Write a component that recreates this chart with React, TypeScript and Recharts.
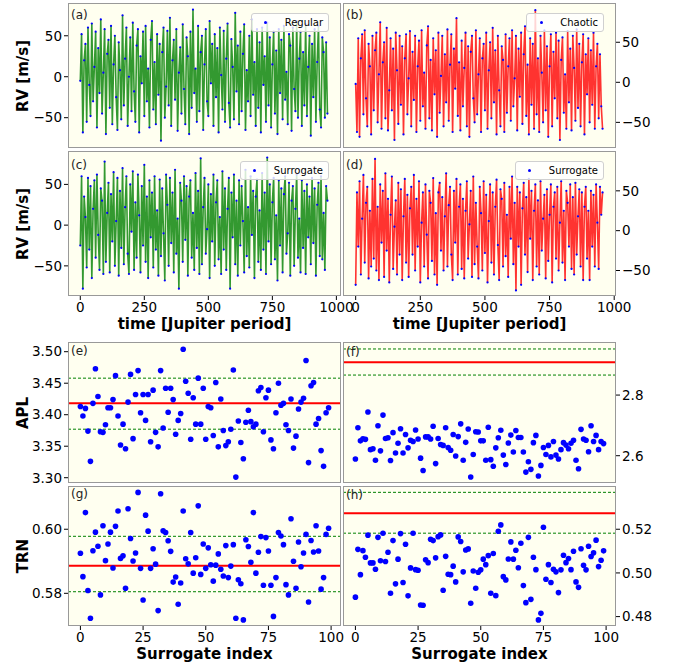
import { LineChart, Line, XAxis, YAxis, ScatterChart, Scatter, ReferenceLine } from "recharts";

const FONT = "'DejaVu Sans', sans-serif";
const STEP = 5; // sampling step in Jupiter periods
const GREEN = "#008000";
const RED = "#ff0000";
const BLUE = "#0000ff";
const BG = "#fffff0";

// RV series [m/s]
const regular = [
  -5, 52, -68, 20, 40, -55, 60, -10, -48, 65, -30, 12, 55, -62, 35, -20, 70, -45, 5, 58,
  -70, 28, 45, -38, 62, -58, 15, 50, -25, -65, 42, 8, -52, 75, -35, 22, 60, -60, 0, 48,
  -42, 66, -18, -55, 38, 58, -68, 25, -8, 55, -48, 62, -30, 10, -62, 45, 68, -40, 18, -58,
  52, -22, 40, -78, 30, 60, -50, -12, 56, -35, 72, -60, 20, 45, -28, 58, -66, 5, 36, -45,
  64, -15, -58, 48, 25, -70, 55, -38, 82, -20, 10, -55, 62, -42, 30, 50, -65, 15, 58, -30,
  -48, 68, -8, 40, -60, 52, -25, 35, -68, 60, 2, -40, 56, -55, 22, 65, -32, -62, 46, 12,
  -52, 78, -18, 38, -58, 55, -42, 28, 64, -65, 8, -30, 50, -48, 70, -22, 18, -60, 58, -38,
  42, -68, 60, -10, 25, -55, 66, -35, 48, -62, 15, 55, -45, 32, -70, 58, -20, 45, -52, 62,
  -28, 6, -58, 52, 38, -66, 60, -15, -42, 68, -50, 22, 55, -60, 30, -35, 64, -48, 12, 50,
  -72, 40, -25, 58, -55, 18, 62, -40, -62, 48, 30, -50, 42, -45,
];
const chaotic = [
  -2, -62, 55, -68, 30, 60, -40, 65, -20, -55, 48, 20, -65, 58, -35, 40, 62, -50, 10, 75,
  -58, 25, 50, -45, 68, -60, -10, 55, -35, 42, -72, 62, 15, -52, 58, -28, 45, -65, 30, 60,
  -40, 5, 64, -55, 38, -22, 58, -62, 20, 52, -48, 65, -30, 12, -58, 46, 70, -45, 28, -60,
  55, -15, 40, -68, 62, -38, 8, 58, -55, 35, -25, 66, -48, 22, 60, -62, 42, -8, 80, -42,
  25, -60, 52, -30, 18, 62, -55, 45, -68, 38, 58, -20, -50, 65, -40, 10, 55, -62, 30, 48,
  -35, 62, -58, 15, 50, -45, 68, -25, 40, -65, 58, -10, -55, 45, 28, -62, 60, -38, 20, 55,
  -48, 65, -30, 5, 58, -60, 42, -18, 62, -52, 35, 70, -42, 22, -65, 55, -28, 48, -58, 90,
  -40, 30, -62, 58, 12, -50, 65, -35, 45, -68, 20, 60, -55, 38, -20, 62, -45, 52, -72, 28,
  56, -38, 10, -58, 64, -25, 42, -60, 58, 18, -48, 66, -32, 48, -55, 25, 60, -65, 35, -15,
  55, -50, 40, -28, 62, -58, 20, 48, -45, 35, -30, -58,
];
const surrogateRegular = [
  -25, 60, -78, 35, 10, -52, 58, -30, 48, -65, 20, 55, -40, 62, -12, -55, 45, 30, -60, 78,
  -45, 15, 52, -58, 38, -20, 65, -50, 5, 58, -62, 42, -28, 70, -48, 22, 60, -35, -60, 50,
  -8, 66, -55, 28, -40, 62, 12, -58, 48, -25, 74, -45, 35, -65, 55, -15, 40, -52, 60, -30,
  18, -62, 56, -38, 45, -10, -68, 62, 25, -50, 58, -22, 40, -58, 68, -35, 8, -78, 52, 30,
  -45, 60, -18, 48, -62, 35, 55, -40, 15, -55, 64, -28, 42, -60, 82, -48, 22, 58, -35, -5,
  50, -65, 38, -20, 62, -50, 28, 55, -42, 10, -60, 66, -30, 45, -55, 20, 58, -78, 40, -15,
  62, -48, 30, -62, 55, -25, 48, 5, -58, 68, -38, 22, -52, 60, -12, 42, -65, 35, 56, -45,
  18, -55, 64, -30, 40, -60, 83, -20, 50, -48, 28, 58, -42, 12, -68, 55, -25, 45, -58, 38,
  60, -35, -10, 52, -62, 30, 48, -50, 20, 62, -40, 8, -58, 55, -28, 42, -60, 50, -15, 35,
  -48, 58, -22, 45, -62, 25, 52, -38, 60, -42, 15, -55, 48, 30,
];
const surrogateChaotic = [
  -68, 48, -20, 62, -55, 15, 70, -40, 35, 55, -60, 25, -45, 65, -35, 90, -50, 30, -62, 58,
  -15, 50, -58, 72, -25, 40, -65, 20, 68, -48, 5, 38, -55, 60, -30, 52, -62, 18, 65, -40,
  45, -58, 28, 55, -30, 70, -50, 40, -20, 62, -65, 10, 48, -45, 58, -5, -60, 50, 35, -38,
  66, -55, 22, -68, 48, 60, -25, 42, -50, 18, 72, -45, 32, 55, -30, -62, 50, -15, 65, -55,
  30, 58, -48, 40, -60, 25, 62, -35, 8, 50, -58, 68, -42, 35, -20, -60, 55, 22, -50, 62,
  -28, 45, -65, 12, 58, -40, 48, -55, 30, 64, -18, -62, 52, 40, -45, 60, -32, 20, -58, 55,
  -10, 68, -42, 35, -75, 55, -20, 48, -68, 28, 60, -30, 42, -52, 65, -10, 50, -62, 25, 58,
  -45, 38, -55, 62, -25, 15, 45, -60, 52, -38, 20, 58, -65, 30, 48, -35, 55, -50, 10, 62,
  -40, 25, -62, 50, 35, -20, 58, -48, 42, -55, 60, -30, 18, 52, -45, 48, -62, 30, 55, -35,
  25, -62, 50, -20, 45, -45, 58, 10, -48, 55, 20, 48,
];

// surrogate measures, index 0..99
const aplRegular = [
  3.413, 3.398, 3.41, 3.374, 3.326, 3.418, 3.473, 3.429, 3.373, 3.372, 3.384, 3.411, 3.411, 3.424, 3.462, 3.398, 3.352, 3.385, 3.346, 3.42,
  3.464, 3.362, 3.432, 3.47, 3.403, 3.432, 3.391, 3.432, 3.357, 3.439, 3.372, 3.349, 3.47, 3.379, 3.442, 3.404, 3.442, 3.424, 3.369, 3.391,
  3.402, 3.504, 3.453, 3.434, 3.361, 3.427, 3.385, 3.458, 3.385, 3.442, 3.361, 3.413, 3.411, 3.367, 3.451, 3.349, 3.425, 3.375, 3.351, 3.357,
  3.377, 3.471, 3.301, 3.39, 3.356, 3.33, 3.388, 3.407, 3.389, 3.381, 3.385, 3.438, 3.443, 3.373, 3.427, 3.439, 3.36, 3.346, 3.403, 3.45,
  3.415, 3.418, 3.384, 3.375, 3.425, 3.347, 3.366, 3.409, 3.42, 3.426, 3.486, 3.324, 3.446, 3.451, 3.385, 3.394, 3.343, 3.318, 3.403, 3.411,
];
const aplChaotic = [
  2.589, 2.692, 2.649, 2.656, 2.654, 2.744, 2.62, 2.623, 2.585, 2.699, 2.616, 2.734, 2.657, 2.659, 2.584, 2.676, 2.609, 2.641, 2.689, 2.609,
  2.67, 2.626, 2.651, 2.647, 2.685, 2.655, 2.592, 2.551, 2.662, 2.662, 2.655, 2.697, 2.574, 2.657, 2.637, 2.634, 2.692, 2.627, 2.618, 2.67,
  2.599, 2.663, 2.705, 2.585, 2.644, 2.688, 2.53, 2.604, 2.679, 2.678, 2.649, 2.649, 2.585, 2.694, 2.587, 2.565, 2.626, 2.659, 2.684, 2.602,
  2.571, 2.642, 2.668, 2.612, 2.683, 2.66, 2.66, 2.612, 2.546, 2.58, 2.555, 2.643, 2.667, 2.533, 2.568, 2.627, 2.604, 2.634, 2.596, 2.647,
  2.602, 2.589, 2.62, 2.643, 2.635, 2.623, 2.641, 2.651, 2.585, 2.557, 2.687, 2.655, 2.651, 2.613, 2.699, 2.647, 2.667, 2.62, 2.647, 2.64,
];
const trnRegular = [
  0.5925, 0.5852, 0.6052, 0.5809, 0.5722, 0.5933, 0.5991, 0.5947, 0.5795, 0.6011, 0.5902, 0.5954, 0.5991, 0.5879, 0.6009, 0.6057, 0.5909, 0.5917, 0.5816, 0.6064,
  0.5971, 0.5901, 0.5926, 0.6115, 0.5878, 0.5779, 0.6044, 0.5994, 0.5878, 0.5939, 0.5891, 0.5746, 0.6111, 0.5995, 0.599, 0.5964, 0.5931, 0.5835, 0.5851, 0.5766,
  0.5832, 0.6057, 0.5908, 0.5892, 0.599, 0.5863, 0.5911, 0.6073, 0.5859, 0.5954, 0.5878, 0.5942, 0.5889, 0.5838, 0.5888, 0.5923, 0.5875, 0.5854, 0.5949, 0.5849,
  0.5885, 0.5952, 0.5722, 0.5842, 0.583, 0.5717, 0.5967, 0.5946, 0.5897, 0.6052, 0.5863, 0.5928, 0.5977, 0.5825, 0.5974, 0.5932, 0.5825, 0.5728, 0.5849, 0.599,
  0.5979, 0.5952, 0.5827, 0.5795, 0.6033, 0.59, 0.5816, 0.596, 0.5883, 0.5926, 0.5984, 0.5773, 0.5965, 0.5929, 0.6011, 0.5932, 0.5813, 0.5849, 0.5984, 0.6003,
];
const trnChaotic = [
  0.4889, 0.5108, 0.4992, 0.5102, 0.5072, 0.5173, 0.5046, 0.5046, 0.5017, 0.5163, 0.5056, 0.5182, 0.5052, 0.5095, 0.4907, 0.5148, 0.495, 0.5063, 0.518, 0.4956,
  0.5131, 0.4895, 0.5023, 0.5182, 0.5015, 0.5012, 0.4853, 0.4852, 0.506, 0.5047, 0.5154, 0.5148, 0.5069, 0.5166, 0.5174, 0.4921, 0.5076, 0.4994, 0.4992, 0.5031,
  0.4959, 0.5165, 0.5144, 0.5005, 0.5105, 0.511, 0.4861, 0.5009, 0.493, 0.5003, 0.5014, 0.5063, 0.5038, 0.5079, 0.4907, 0.5089, 0.4896, 0.5191, 0.522, 0.4983,
  0.4968, 0.5064, 0.5142, 0.5063, 0.5104, 0.5024, 0.5136, 0.4942, 0.4864, 0.5163, 0.4879, 0.5072, 0.5015, 0.4785, 0.4815, 0.5209, 0.4971, 0.5038, 0.4956, 0.5017,
  0.5005, 0.491, 0.5014, 0.5081, 0.5047, 0.5066, 0.5015, 0.5099, 0.4959, 0.4934, 0.5111, 0.5035, 0.5014, 0.5122, 0.5075, 0.5092, 0.515, 0.5029, 0.5058, 0.5101,
];

// original-series value (red) and surrogate band (green dashed)
const aplRegularRef = { value: 3.418, low: 3.377, high: 3.458 };
const aplChaoticRef = { value: 2.908, low: 2.866, high: 2.952 };
const trnRegularRef = { value: 0.5886, low: 0.5805, high: 0.5978 };
const trnChaoticRef = { value: 0.5273, low: 0.5182, high: 0.5369 };

const LEFT_X = 68;
const RIGHT_X = 343;
const COL_W = 273;

const rvPanels = [
  { tag: "(a)", values: regular, color: GREEN, x: LEFT_X, y: 3, h: 145, side: "left", showX: false, yDomain: [-87, 90], xDomain: [-48, 1018], legend: "Regular", tagDy: 6 },
  { tag: "(b)", values: chaotic, color: RED, x: RIGHT_X, y: 3, h: 145, side: "right", showX: false, yDomain: [-82, 99], xDomain: [-49, 1007], legend: "Chaotic", tagDy: 6 },
  { tag: "(c)", values: surrogateRegular, color: GREEN, x: LEFT_X, y: 151, h: 145, side: "left", showX: true, yDomain: [-87, 91], xDomain: [-48, 1018], legend: "Surrogate", tagDy: 8 },
  { tag: "(d)", values: surrogateChaotic, color: RED, x: RIGHT_X, y: 151, h: 145, side: "right", showX: true, yDomain: [-82, 100], xDomain: [-49, 1007], legend: "Surrogate", tagDy: 8 },
];

const scatterPanels = [
  { tag: "(e)", values: aplRegular, ref: aplRegularRef, x: LEFT_X, y: 342, h: 141, side: "left", showX: false, yDomain: [3.2916, 3.5154], ticks: [3.3, 3.35, 3.4, 3.45, 3.5], dec: 2, tagDy: 3 },
  { tag: "(f)", values: aplChaotic, ref: aplChaoticRef, x: RIGHT_X, y: 342, h: 141, side: "right", showX: false, yDomain: [2.51, 2.975], ticks: [2.6, 2.8], dec: 1, tagDy: 4 },
  { tag: "(g)", values: trnRegular, ref: trnRegularRef, x: LEFT_X, y: 486, h: 140, side: "left", showX: true, yDomain: [0.5698, 0.6135], ticks: [0.58, 0.6], dec: 2, tagDy: 2 },
  { tag: "(h)", values: trnChaotic, ref: trnChaoticRef, x: RIGHT_X, y: 486, h: 140, side: "right", showX: true, yDomain: [0.4757, 0.5398], ticks: [0.48, 0.5, 0.52], dec: 2, tagDy: 3 },
];

const tickStyle = { fill: "#000", fontSize: 13.5, fontFamily: FONT };
const minus = (v: number) => (v < 0 ? `\u2212${-v}` : `${v}`);

function frame(p: any) {
  const left = p.side === "left";
  const width = left ? p.x + COL_W + 40 : 40 + COL_W + 65;
  return {
    style: { position: "absolute" as const, left: left ? 0 : p.x - 40, top: p.y - 4 },
    width,
    height: 4 + p.h + (p.showX ? 40 : 4),
    margin: { top: 4, bottom: p.showX ? 0 : 4, left: left ? 0 : 40, right: left ? 40 : 0 },
  };
}

function Box({ p }: { p: any }) {
  return (
    <>
      <div style={{ position: "absolute", left: p.x, top: p.y, width: COL_W, height: p.h, boxSizing: "border-box", border: "1px solid #999" }} />
      <div style={{ position: "absolute", left: p.x + 3, top: p.y + p.tagDy, fontSize: 12, lineHeight: "12px", fontFamily: FONT, color: "#222" }}>{p.tag}</div>
    </>
  );
}

function Legend({ p }: { p: any }) {
  return (
    <div
      style={{
        position: "absolute", right: 681 - (p.x + COL_W - 12), top: p.y + 10, height: 19, boxSizing: "border-box",
        padding: "0 5px 0 33px", background: "rgba(255,255,255,0.8)", border: "1px solid #d0d0d0", borderRadius: 3,
        fontSize: 10, lineHeight: "17px", fontFamily: FONT, color: "#000", whiteSpace: "nowrap",
      }}
    >
      <span style={{ position: "absolute", left: 12.5, top: 7, width: 3, height: 3, borderRadius: 2, background: BLUE }} />
      {p.legend}
    </div>
  );
}

function RVPanel({ p }: { p: any }) {
  const data = p.values.map((v: number, i: number) => ({ t: i * STEP, v }));
  const f = frame(p);
  return (
    <div style={f.style}>
      <LineChart width={f.width} height={f.height} data={data} margin={f.margin}>
        <XAxis dataKey="t" type="number" domain={p.xDomain} ticks={[0, 250, 500, 750, 1000]} allowDataOverflow hide={!p.showX} height={40}
          tick={tickStyle} tickSize={4} tickMargin={2} axisLine={false} tickLine={{ stroke: "#000" }} />
        <YAxis type="number" domain={p.yDomain} ticks={[-50, 0, 50]} allowDataOverflow orientation={p.side} width={p.side === "left" ? p.x : 65}
          tick={tickStyle} tickSize={4} tickMargin={2} axisLine={false} tickLine={{ stroke: "#000" }} tickFormatter={minus} />
        <Line dataKey="v" type="linear" stroke={p.color} strokeOpacity={0.8} strokeWidth={1.6} isAnimationActive={false}
          dot={{ r: 1.1, fill: BLUE, stroke: "none" }} />
      </LineChart>
    </div>
  );
}

function ScatterPanel({ p }: { p: any }) {
  const data = p.values.map((v: number, i: number) => ({ i, v }));
  const f = frame(p);
  return (
    <div style={f.style}>
      <ScatterChart width={f.width} height={f.height} margin={f.margin}>
        <XAxis dataKey="i" type="number" domain={[-4.95, 103.95]} ticks={[0, 25, 50, 75, 100]} allowDataOverflow hide={!p.showX} height={40}
          tick={tickStyle} tickSize={4} tickMargin={2} axisLine={false} tickLine={{ stroke: "#000" }} />
        <YAxis dataKey="v" type="number" domain={p.yDomain} ticks={p.ticks} allowDataOverflow orientation={p.side} width={p.side === "left" ? p.x : 65}
          tick={tickStyle} tickSize={4} tickMargin={2} axisLine={false} tickLine={{ stroke: "#000" }} tickFormatter={(v: number) => v.toFixed(p.dec)} />
        <ReferenceLine y={p.ref.high} stroke={GREEN} strokeDasharray="3 2" strokeWidth={1} />
        <ReferenceLine y={p.ref.low} stroke={GREEN} strokeDasharray="3 2" strokeWidth={1} />
        <ReferenceLine y={p.ref.value} stroke={RED} strokeWidth={2} />
        <Scatter data={data} dataKey="v" isAnimationActive={false}
          shape={(s: any) => <circle cx={s.cx} cy={s.cy} r={2.8} fill={BLUE} />} />
      </ScatterChart>
    </div>
  );
}

function Title({ text, x, y, rotate }: { text: string; x: number; y: number; rotate?: boolean }) {
  return (
    <div
      style={{
        position: "absolute", left: x, top: y, transform: `translate(-50%, -50%)${rotate ? " rotate(-90deg)" : ""}`,
        fontSize: 15, fontWeight: "bold", fontFamily: FONT, lineHeight: "15px", whiteSpace: "nowrap", color: "#000",
      }}
    >
      {text}
    </div>
  );
}

export default function App() {
  const all = [...rvPanels, ...scatterPanels];
  return (
    <div style={{ position: "absolute", left: 0, top: 0, width: 681, height: 666, background: "#fff", overflow: "hidden" }}>
      {all.map((p) => (
        <div key={"bg" + p.tag} style={{ position: "absolute", left: p.x, top: p.y, width: COL_W, height: p.h, background: BG }} />
      ))}
      {rvPanels.map((p) => <RVPanel key={p.tag} p={p} />)}
      {scatterPanels.map((p) => <ScatterPanel key={p.tag} p={p} />)}
      {all.map((p) => <Box key={"box" + p.tag} p={p} />)}
      {rvPanels.map((p) => <Legend key={"lg" + p.tag} p={p} />)}
      <Title text="RV [m/s]" x={23} y={75.5} rotate />
      <Title text="RV [m/s]" x={23} y={223.5} rotate />
      <Title text="APL" x={23} y={412.5} rotate />
      <Title text="TRN" x={23} y={556} rotate />
      <Title text="time [Jupiter period]" x={204.5} y={323.5} />
      <Title text="time [Jupiter period]" x={479.5} y={323.5} />
      <Title text="Surrogate index" x={204.5} y={654} />
      <Title text="Surrogate index" x={479.5} y={654} />
    </div>
  );
}
